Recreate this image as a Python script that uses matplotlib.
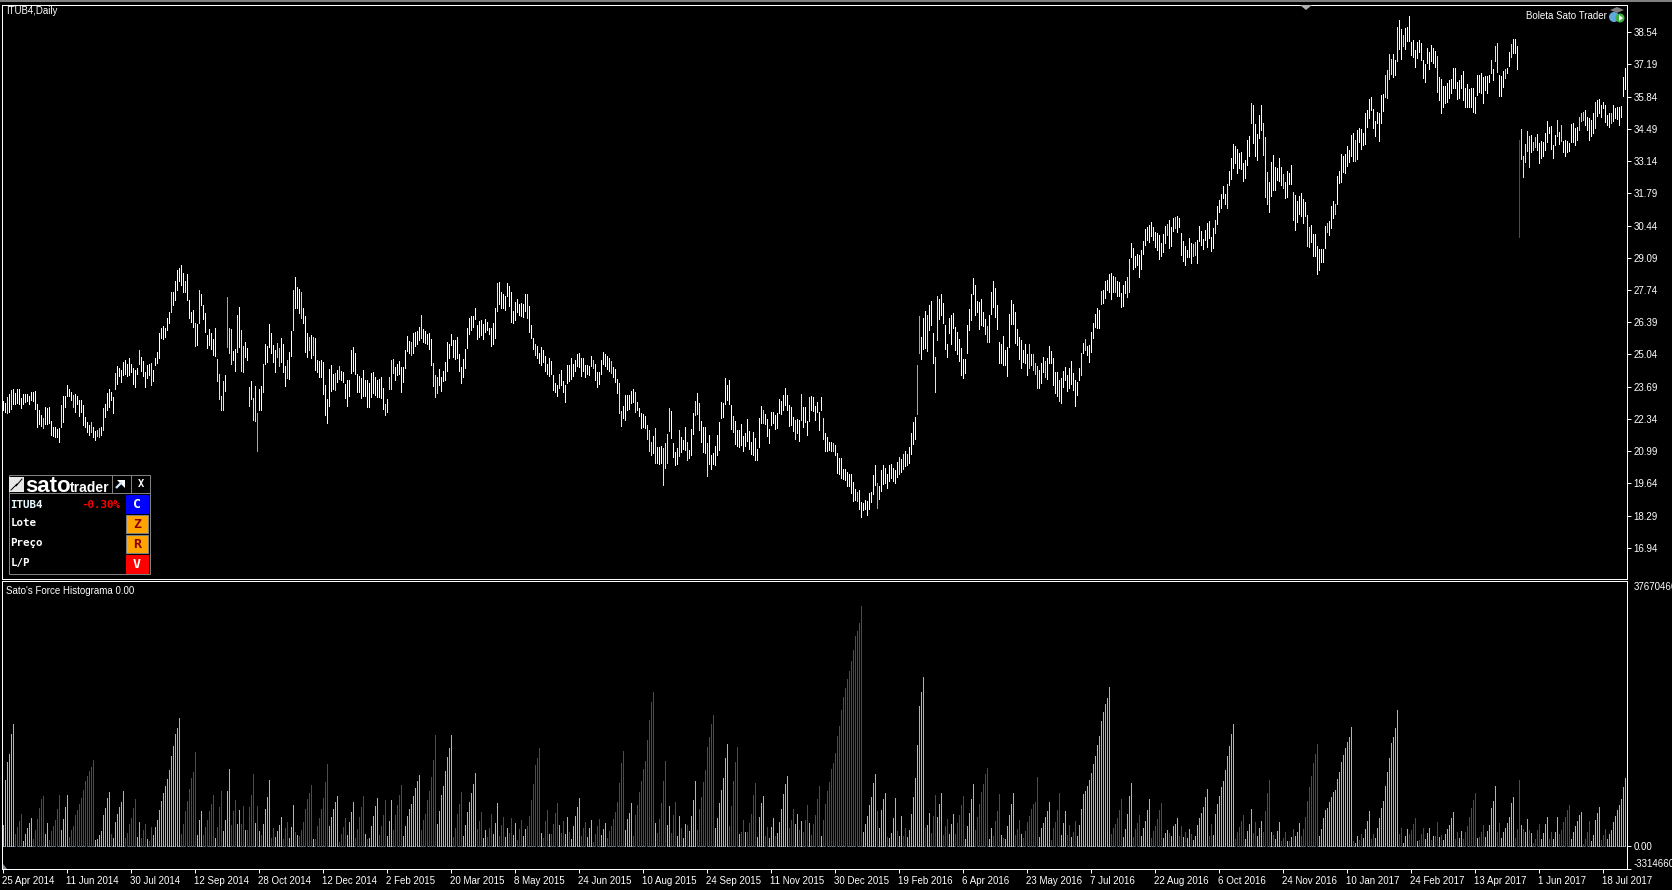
import matplotlib
matplotlib.use("Agg")
import matplotlib.pyplot as plt
from matplotlib.patches import Rectangle, Polygon, Circle

# price bars as (high, low) in cents, one tuple per trading day
bars_2014 = [(2310,2270),(2299,2264),(2326,2259),(2340,2264),(2354,2275),(2358,2298),(2343,2298),(2358,2301),(2358,2298),(2321,2280),
(2338,2298),(2338,2305),(2340,2308),(2329,2298),(2346,2312),(2346,2310),(2350,2276),(2298,2201),(2270,2212),(2250,2205),
(2236,2194),(2282,2212),(2280,2212),(2282,2217),(2223,2166),(2199,2162),(2198,2159),(2191,2159),(2194,2136),(2292,2199),
(2329,2219),(2329,2284),(2375,2329),(2361,2329),(2345,2312),(2332,2283),(2338,2264),(2329,2296),(2312,2245),(2312,2262),
(2292,2208),(2243,2201),(2219,2177),(2210,2166),(2220,2177),(2198,2156),(2184,2145),(2187,2162),(2196,2159),(2199,2166),
(2279,2187),(2296,2243),(2342,2270),(2361,2282),(2347,2312),(2326,2259),(2428,2359),(2455,2382),(2448,2413),(2438,2389),
(2473,2417),(2480,2424),(2465,2413),(2491,2417),(2463,2431),(2449,2378),(2438,2368),(2448,2421),(2522,2463),(2495,2435),
(2476,2413),(2431,2368),(2459,2407),(2463,2417),(2466,2375),(2438,2391),(2488,2459),(2515,2466),(2592,2488),(2614,2574),
(2625,2570),(2613,2575),(2655,2606),(2681,2634),(2765,2683),(2765,2711),(2811,2731),(2857,2773),(2866,2811),(2878,2794),
(2846,2764),(2813,2766),(2843,2734),(2734,2657),(2681,2638),(2692,2617),(2634,2539),(2631,2543),(2773,2634),(2759,2709),
(2711,2652),(2676,2599),(2585,2529),(2610,2543),(2592,2525),(2569,2502),(2614,2498),(2484,2392),(2421,2318),(2329,2270),
(2393,2270),(2417,2350),(2744,2536),(2614,2511),(2610,2465),(2518,2480),(2526,2435),(2669,2515),(2702,2536),(2606,2435),
(2539,2431),(2554,2494),(2532,2480),(2367,2289),(2392,2317),(2321,2229),(2371,2224),(2258,2100),(2357,2270),(2371,2270),
(2463,2346),(2547,2465),(2539,2473),(2631,2536),(2595,2508),(2543,2473),(2522,2431),(2551,2494),(2529,2455),(2572,2473),
(2547,2431),(2455,2371),(2480,2406),(2515,2403),(2603,2497),(2773,2606),(2828,2697),(2787,2697),(2778,2676),(2766,2657),
(2697,2634),(2664,2515),(2592,2494),(2578,2522),(2585,2491),(2575,2501),(2572,2438),(2480,2430),(2476,2410),(2480,2410),
(2473,2340),(2375,2250),(2319,2217),(2442,2287),(2458,2352),(2424,2361),(2428,2354),(2438,2389),(2455,2400),(2434,2396),
(2431,2389),(2382,2322),(2396,2289),(2396,2331),(2522,2427),(2535,2435),(2511,2421),(2424,2347),(2414,2346),(2406,2322),
(2438,2331),(2396,2331),(2396,2285),(2386,2285),(2428,2324),(2430,2343),(2409,2336),(2396,2326),(2400,2326),(2409,2322),
(2363,2277),(2296,2250),(2317,2262),(2409,2361),(2480,2358),(2484,2428),(2452,2396),(2463,2417),(2476,2424),(2451,2346),
(2451,2389),(2522,2449),(2581,2519),(2561,2508),(2557,2502),(2592,2508),(2599,2539),(2603,2547),(2617,2564)]

bars_2015 = [(2669,2572),(2611,2555),(2602,2553),(2590,2548),(2595,2527),(2569,2460),(2468,2372),(2418,2326),(2410,2343),(2443,2376),
(2410,2351),(2435,2393),(2472,2397),(2556,2435),(2548,2489),(2590,2544),(2565,2492),(2565,2485),(2577,2489),(2506,2435),
(2452,2384),(2485,2410),(2527,2447),(2615,2531),(2657,2590),(2665,2606),(2665,2619),(2699,2653),(2628,2569),(2644,2577),
(2648,2586),(2632,2569),(2653,2598),(2640,2606),(2615,2590),(2615,2539),(2636,2548),(2699,2573),(2804,2686),(2808,2716),
(2766,2699),(2757,2699),(2749,2690),(2804,2749),(2791,2707),(2766,2640),(2686,2636),(2724,2648),(2736,2682),(2715,2669),
(2720,2665),(2715,2661),(2757,2686),(2757,2657),(2707,2598),(2628,2573),(2573,2527),(2548,2502),(2539,2489),(2510,2468),
(2535,2460),(2523,2472),(2498,2435),(2464,2422),(2489,2414),(2477,2422),(2418,2355),(2384,2347),(2376,2330),(2422,2363),
(2439,2376),(2393,2347),(2376,2305),(2460,2384),(2460,2393),(2489,2401),(2464,2414),(2481,2435),(2506,2456),(2510,2451),
(2489,2414),(2489,2435),(2460,2410),(2460,2422),(2456,2418),(2498,2456),(2481,2447),(2464,2397),(2430,2368),(2430,2380),
(2481,2422),(2514,2464),(2506,2456),(2498,2443),(2489,2435),(2477,2426),(2452,2410),(2443,2389),(2401,2342),(2384,2259),
(2267,2204),(2288,2238),(2334,2229),(2334,2271),(2334,2275),(2351,2301),(2359,2305),(2347,2263),(2305,2271),(2280,2246),
(2259,2196),(2255,2200),(2246,2196),(2208,2150),(2187,2099),(2137,2083),(2162,2091),(2196,2049),(2116,2049),(2116,2045),
(2120,2049),(2112,1957),(2133,2028),(2171,2049),(2280,2183),(2267,2154),(2133,2074),(2095,2041),(2112,2045),(2187,2078),
(2158,2095),(2146,2108),(2200,2104),(2137,2062),(2104,2070),(2192,2083),(2259,2171),(2309,2250),(2342,2254),(2301,2187),
(2225,2137),(2200,2095),(2200,2091),(2133,1995),(2166,2045),(2083,2024),(2091,2045),(2120,2041),(2166,2083),(2221,2104),
(2305,2238),(2301,2242),(2405,2296),(2376,2313),(2397,2296),(2292,2192),(2246,2179),(2225,2129),(2187,2120),(2187,2116),
(2212,2125),(2162,2099),(2175,2120),(2234,2141),(2183,2108),(2137,2087),(2179,2083),(2154,2062),(2108,2062),(2238,2116),
(2288,2217),(2271,2217),(2254,2212),(2233,2162),(2192,2133),(2263,2208),(2263,2217),(2250,2192),(2259,2196),(2317,2259),
(2309,2254),(2334,2271),(2363,2292),(2334,2271),(2292,2204),(2284,2208),(2242,2183),(2229,2150),(2233,2175),(2229,2141),
(2338,2229),(2284,2200),(2284,2221),(2225,2166),(2326,2225),(2330,2271),(2326,2267),(2288,2229),(2305,2263),(2263,2187),
(2326,2271),(2238,2150),(2175,2099),(2158,2099),(2137,2104),(2137,2099),(2133,2099),(2125,2083),(2091,2007),(2070,2003),
(2070,1986),(2024,1982),(2024,1978),(2012,1953),(2003,1953),(2003,1923),(1970,1890),(1940,1894),(1928,1890),(1936,1856),
(1886,1823),(1881,1852),(1894,1856),(1890,1831),(1923,1856),(1928,1886),(1999,1919),(2041,1957),(1965,1861),(1953,1898),
(2020,1930),(2040,1960),(2030,1965),(2005,1945),(2040,1975),(2045,1985),(2030,1975),(2020,1965),(2055,1990),(2075,2005),
(2065,2010),(2085,2025),(2100,2035),(2085,2040),(2115,2050),(2175,2085),(2220,2130),(2242,2150)]

bars_2016 = [(2459,2254),(2665,2510),(2577,2485),(2656,2527),(2686,2531),(2669,2518),(2711,2606),(2728,2627),(2594,2468),(2493,2346),
(2749,2564),(2736,2652),(2757,2669),(2719,2636),(2627,2527),(2547,2493),(2656,2594),(2669,2547),(2677,2615),(2619,2522),
(2598,2506),(2568,2476),(2531,2418),(2485,2405),(2485,2426),(2627,2510),(2694,2606),(2757,2648),(2824,2757),(2795,2669),
(2728,2682),(2723,2610),(2736,2627),(2682,2623),(2652,2589),(2623,2556),(2669,2556),(2765,2673),(2811,2703),(2782,2661),
(2711,2610),(2556,2468),(2547,2468),(2581,2459),(2522,2459),(2535,2413),(2673,2535),(2732,2631),(2715,2631),(2682,2552),
(2610,2543),(2577,2485),(2564,2447),(2522,2472),(2547,2468),(2506,2418),(2547,2447),(2506,2460),(2506,2439),(2468,2422),
(2455,2363),(2438,2363),(2468,2384),(2493,2430),(2476,2409),(2489,2401),(2539,2468),(2518,2468),(2489,2376),(2430,2342),
(2430,2330),(2397,2309),(2405,2300),(2434,2367),(2451,2397),(2418,2351),(2447,2363),(2476,2380),(2426,2355),(2397,2288),
(2388,2334),(2447,2397),(2510,2418),(2552,2510),(2568,2522),(2539,2501),(2543,2472),(2598,2514),(2636,2573),(2673,2619),
(2698,2615),(2690,2615),(2770,2715),(2774,2719),(2812,2740),(2816,2774),(2841,2765),(2845,2736),(2832,2765),(2828,2765),
(2812,2749),(2807,2749),(2761,2703),(2795,2707),(2812,2761),(2828,2744),(2904,2765),(2971,2912),(2950,2862),(2916,2870),
(2925,2879),(2921,2828),(2941,2862),(2979,2925),(3029,2962),(3038,2983),(3046,2975),(3059,3000),(3038,2983),(3017,2954),
(3013,2941),(3004,2904),(2971,2916),(3009,2933),(3042,2971),(3050,3004),(3067,2950),(3038,2958),(3076,3021),(3080,3034),
(3084,3017),(3076,3038),(3012,2920),(2979,2895),(2958,2878),(2941,2912),(2991,2912),(2970,2887),(2966,2916),(2975,2920),
(2983,2887),(3042,2979),(3021,2962),(2987,2945),(3025,2983),(3054,2954),(3063,2991),(2996,2937),(3033,2950),(3067,3012),
(3126,3050),(3151,3100),(3176,3117),(3209,3159),(3176,3134),(3218,3117),(3272,3214),(3327,3239),(3385,3285),(3377,3306),
(3364,3264),(3348,3285),(3352,3281),(3306,3230),(3318,3243),(3402,3297),(3419,3335),(3557,3473),(3549,3390),(3469,3335),
(3427,3318),(3507,3411),(3549,3444),(3473,3339),(3415,3163),(3268,3134),(3226,3100),(3310,3167),(3339,3193),(3289,3193),
(3285,3235),(3327,3230),(3289,3214),(3260,3201),(3226,3159),(3272,3163),(3264,3218),(3297,3218),(3184,3067),(3172,3025),
(3147,3059),(3167,3092),(3180,3084),(3155,3054),(3142,3084),(3088,2958),(3038,2954),(3046,2975),(3008,2916),(3008,2916),
(2958,2841),(2945,2857),(2945,2891),(2945,2891),(3042,2950),(3054,3017),(3063,3004),(3126,3033),(3147,3075),(3134,3092)]

bars_2017 = [(3251,3134),(3272,3222),(3344,3226),(3335,3268),(3344,3264),(3377,3293),(3360,3310),(3423,3335),(3431,3314),(3402,3314),
(3444,3323),(3452,3394),(3448,3364),(3431,3381),(3515,3385),(3528,3457),(3574,3494),(3582,3528),(3532,3452),(3482,3419),
(3519,3473),(3515,3398),(3591,3473),(3595,3524),(3675,3582),(3696,3578),(3763,3658),(3742,3679),(3763,3666),(3737,3675),
(3876,3733),(3905,3784),(3866,3743),(3842,3798),(3870,3782),(3874,3819),(3922,3819),(3814,3758),(3821,3749),(3779,3710),
(3814,3744),(3821,3770),(3807,3738),(3738,3661),(3721,3647),(3786,3726),(3772,3698),(3800,3733),(3786,3724),(3777,3710),
(3754,3605),(3665,3570),(3657,3514),(3629,3542),(3629,3556),(3640,3563),(3654,3577),(3657,3598),(3705,3619),(3705,3619),
(3647,3573),(3654,3577),(3675,3619),(3691,3570),(3619,3542),(3637,3542),(3615,3542),(3619,3542),(3619,3521),(3584,3514),
(3675,3591),(3675,3605),(3682,3598),(3665,3556),(3670,3612),(3670,3598),(3675,3647),(3738,3682),(3698,3654),(3796,3735),
(3807,3689),(3675,3587),(3670,3587),(3693,3623),(3698,3661),(3703,3682),(3772,3712),(3805,3752),(3824,3768),(3824,3768),
(3796,3700),(3402,2997),(3448,3323),(3335,3247),(3386,3310),(3440,3358),(3419,3289),(3423,3353),(3395,3360),(3416,3374),
(3428,3360),(3391,3307),(3400,3326),(3395,3335),(3430,3360),(3482,3395),(3458,3430),(3461,3363),(3381,3328),(3423,3381),
(3486,3419),(3437,3386),(3465,3400),(3400,3353),(3402,3335),(3400,3353),(3391,3358),(3468,3393),(3472,3395),(3451,3381),
(3458,3402),(3500,3444),(3517,3482),(3521,3486),(3528,3465),(3500,3444),(3493,3402),(3486,3419),(3514,3433),(3563,3451),
(3570,3503),(3574,3514),(3549,3500),(3563,3535),(3549,3479),(3507,3465),(3514,3458),(3514,3475),(3549,3483),(3535,3493),
(3539,3489),(3542,3465),(3545,3497),(3668,3588),(3703,3615),(3705,3661)]

# bars that are not white, by position in the series
yellow_bars = [2,4,29,50,56,68,74,84,91,96,98,107,108,109,110,113,114,117,119,120,123,125,126,130,145,191,193,194,195,
    209,215,216,217,247,262,266,278,308,309,316,322,323,324,326,330,331,332,333,338,342,346,348,352,365,396,399,403,410,
    448,450,452,462,466,467,517,528,539,549,562,563,606,612,624,630,631,632,645,652,653,691,692,693,694,697,
    717,744,746,747,754,759,760,761,762,763,777,796]
orange_bars = [112,127,437,457,458]
blue_bars = [20,35,44,47,48,137,138,142,149,153,155,166,168,204,295,304,380,415,427,492,513,515,516,521,541,556,582,586,
    595,596,640,662,666,676,700,751,765,766,779,788,789,790,804]
red_bars = [758]

# force histogram in units of 100000, negative = red bar (drawn upward anyway)
force_2014 = [30,96,122,134,162,177,-17,-28,-36,-46,7,17,26,33,41,-10,-23,-39,-55,-68,-72,17,33,-9,-22,-29,-38,-54,-74,23,39,57,74,
-13,-23,-29,-45,-52,-61,-70,-81,-94,-101,-109,-114,-125,9,10,16,22,45,55,70,78,-17,12,35,46,57,64,80,-12,-19,-32,-41,-55,-68,13,35,
-12,-23,-32,10,-7,-28,16,28,38,52,65,77,87,97,110,130,145,162,171,185,-17,-32,-51,-65,-83,-99,-107,-136,16,38,51,-16,-28,-38,-51,-61,-74,
12,-28,-57,-80,22,38,80,112,-30,-51,-67,32,52,-32,-58,23,-23,-57,-74,-104,33,-58,22,-16,32,54,71,96,-12,-26,13,22,30,42,-10,-26,-35,
12,28,59,-20,16,-14,-23,-35,-54,-68,-77,-88,10,-10,-29,-41,-54,-70,-93,-119,29,42,54,64,72,-6,-17,-28,-41,16,35,49,64,-12,-25,-42,-57,-72,
17,-10,12,29,43,58,70,-16,-29,-45,-67,14,36,67,-23,-45,-59,-74,-88,14,29,43,54,61,72,84,94,103]

force_2015 = [-23,-38,-46,-67,-80,-100,-125,-161,32,51,74,87,109,129,142,161,-13,-26,-46,-61,-78,14,30,49,64,77,90,106,-25,-36,-49,12,23,
-13,-26,-46,17,33,62,-14,-30,-42,13,26,-19,-41,16,33,-9,-25,-38,14,25,-29,-43,-67,-90,-117,-128,-142,19,-12,-36,-52,17,-17,-32,-48,-62,30,
-19,-36,17,42,-20,10,29,43,57,70,-14,-26,-35,13,26,38,-6,-17,-29,-39,16,25,33,-12,-22,-29,-39,-49,-64,-91,-120,-138,23,39,48,62,
-14,-45,-59,-78,-94,-112,-123,-154,-183,-209,-223,33,-19,-39,-62,-94,-123,30,58,-19,-45,-64,14,43,-26,12,32,-30,22,43,67,94,
-23,-54,-71,-93,-110,-143,-158,-177,-190,26,41,62,81,99,128,148,-29,-58,-94,-122,-143,17,-20,-38,20,-20,-33,-46,-74,-91,13,42,62,72,-14,-28,12]

force_2016 = [28,41,-14,19,35,54,75,90,101,-26,-38,-54,32,46,-23,36,-20,-38,-59,33,-16,-32,-45,-68,-87,14,-38,-61,-80,-93,-112,-120,-135,
-159,-174,-197,-216,-229,-242,-254,-268,-284,-304,-312,-323,-348,20,32,43,59,71,91,104,-51,26,52,68,77,-13,12,19,41,70,-22,14,43,-14,-26,
13,23,46,71,99,146,203,223,245,-26,30,48,-19,-43,-74,42,61,77,-16,-29,-39,17,32,46,-17,-33,-45,
-59,-72,10,29,48,68,90,-23,-42,-61,-78,-90,-104,-113,10,26,-14,-36,-51,-75,16,-12,10,29,45,61,77,-16,-25,-38,17,-12,-22,-35,-43,-54,-61,-64,-100,
13,26,33,42,51,64,-9,-26,-35,-52,-77,16,33,51,-16,-30,13,-20,-36,14,30,54,75,80,87,96,106,119,130,146,159,181,194,206,214,230,
-17,-26,-32,-41,-52,-68,13,25,46,72,91,-13,-25,-33,-45,14,26,36,52,68,-12,-22,-29,-39,-52,-62,12,19,23,-19,14,29,32,41,-14,-29,13,-20,12,25,-17,9,14,30,41,48,57,71,83]

force_2017 = [-14,-32,16,46,61,72,85,94,110,130,145,162,177,-10,-20,-28,-36,-45,10,22,32,54,-19,-35,14,26,36,-20,-51,-77,-96,20,-16,10,22,35,
-7,-12,-20,7,-7,13,-25,14,20,33,-14,-25,-42,-65,-85,-101,-120,-133,-148,14,25,41,52,55,64,71,78,81,97,107,122,132,142,151,158,172,
-7,4,14,-9,-17,12,25,36,51,-10,-17,12,26,41,55,65,87,107,128,149,158,171,197,-17,-26,4,14,25,-17,-23,-32,-41,7,-9,-17,-26,10,19,26,-9,14,-14,-35,13,-16,
9,17,25,30,41,49,-10,-20,12,22,-10,-20,-29,-42,-55,-67,-77,12,-13,-20,-30,13,22,30,55,65,87,-20,-33,12,20,26,33,42,62,71,-12,-25,-96,30,-25,20,39,-23,19,
-4,-10,-23,-32,10,19,32,42,-10,-20,10,20,42,-17,-23,-35,-42,-52,-59,10,20,29,36,45,49,-3,-10,-20,-36,7,16,38,48,57,-9,-16,-25,10,17,23,35,43,52,59,68,85,99,109]

price_ticks = [38.54,37.19,35.84,34.49,33.14,31.79,30.44,29.09,27.74,26.39,25.04,23.69,22.34,20.99,19.64,18.29,16.94]
force_ticks = [37670466,0,-3314660]
force_tick_labels = ["37670466","0.00","-3314660"]
date_labels = ["25 Apr 2014","11 Jun 2014","30 Jul 2014","12 Sep 2014","28 Oct 2014","12 Dec 2014","2 Feb 2015","20 Mar 2015",
    "8 May 2015","24 Jun 2015","10 Aug 2015","24 Sep 2015","11 Nov 2015","30 Dec 2015","19 Feb 2016","6 Apr 2016","23 May 2016",
    "7 Jul 2016","22 Aug 2016","6 Oct 2016","24 Nov 2016","10 Jan 2017","24 Feb 2017","13 Apr 2017","1 Jun 2017","18 Jul 2017"]

plt.rcParams['font.family'] = ['Liberation Sans', 'DejaVu Sans']
W, H = 1672, 890
PX = 72 / 100  # one pixel in points at dpi 100
FS = 7

bars = bars_2014 + bars_2015 + bars_2016 + bars_2017
force = force_2014 + force_2015 + force_2016 + force_2017


def box(top, bottom):
    return [2 / W, 1 - bottom / H, 1625 / W, (bottom - top) / H]


fig = plt.figure(figsize=(W / 100, H / 100), dpi=100, facecolor='black')
ax = fig.add_axes(box(4.5, 579), facecolor='black')
ax2 = fig.add_axes(box(581, 869), facecolor='black')

# price bars
colors = ['white'] * len(bars)
for i in yellow_bars:
    colors[i] = '#ffff00'
for i in orange_bars:
    colors[i] = '#ff9900'
for i in blue_bars:
    colors[i] = '#add8e6'
for i in red_bars:
    colors[i] = '#ff0000'
ax.vlines(range(len(bars)), [b[1] / 100 for b in bars], [b[0] / 100 for b in bars],
          colors=colors, linewidth=PX, antialiased=False, capstyle='butt')

# histogram
force_colors = ['#ff0000' if v < 0 else '#00ffff' for v in force]
ax2.vlines(range(len(force)), 0, [abs(v) * 1e5 for v in force],
           colors=force_colors, linewidth=PX, antialiased=False, capstyle='butt')
ax2.axhline(0, color='#708090', linewidth=PX, linestyle=(0, (4, 2)), antialiased=False, zorder=1)

x0, x1 = -0.25, 812.25
ax.set_xlim(x0, x1)
ax.set_ylim(39.89 - 0.0419 * 579, 39.89 - 0.0419 * 4.5)
ax2.set_xlim(x0, x1)
ax2.set_ylim(-(869 - 846) * 144887, (846 - 581) * 144887)

for a in (ax, ax2):
    for s in a.spines.values():
        s.set_color('white')
        s.set_linewidth(PX)
    a.yaxis.tick_right()
    a.tick_params(axis='y', colors='white', length=3, width=PX, pad=1.5, labelsize=FS)

ax.set_xticks([])
ax.set_yticks(price_ticks)
ax.set_yticklabels([f"{p:.2f}" for p in price_ticks])

ax2.set_yticks(force_ticks)
ax2.set_yticklabels(force_tick_labels)
ax2.get_yticklabels()[2].set_verticalalignment('bottom')
ax2.yaxis.get_major_ticks()[0].tick2line.set_visible(False)
ax2.set_xticks(range(0, 813, 32))
ax2.set_xticklabels(date_labels, ha='left')
ax2.tick_params(axis='x', colors='white', length=3, width=PX, pad=2, labelsize=FS)

# overlay in pixel coordinates for the terminal furniture
ui = fig.add_axes([0, 0, 1, 1])
ui.set_xlim(0, W)
ui.set_ylim(H, 0)
ui.axis('off')
ui.patch.set_alpha(0)

ui.add_patch(Rectangle((0, 0), W, 1.5, color='#808080', lw=0))
ui.add_patch(Polygon([(1300, 5), (1312, 5), (1306, 10)], color='#b0b0b0', lw=0))
ui.add_patch(Polygon([(3, 869), (3, 864), (7, 869)], color='#8090a0', lw=0))

ui.text(6, 10.5, "ITUB4,Daily", color='white', fontsize=FS, va='center')
ui.text(6, 591, "Sato's Force Histograma 0.00", color='white', fontsize=FS, va='center')
ui.text(1607, 16, "Boleta Sato Trader", color='white', fontsize=FS, va='center', ha='right')

# little icon beside the order ticket text
ui.add_patch(Circle((1614, 17), 5, color='#5fa8e0', lw=0))
ui.add_patch(Circle((1620, 18), 4.5, color='#40b040', lw=0))
ui.add_patch(Polygon([(1610, 10), (1617, 7), (1624, 10), (1617, 13)], color='#808080', lw=0))
ui.add_patch(Polygon([(1619, 15), (1623, 18), (1619, 21)], color='white', lw=0))

# Sato trader panel
GREY = '#808080'
ui.add_patch(Rectangle((8.5, 474.5), 141, 99, fill=False, ec=GREY, lw=PX))
ui.plot([8.5, 149.5], [492.5, 492.5], color=GREY, lw=PX)
ui.plot([111.5, 111.5], [474.5, 492.5], color=GREY, lw=PX)
ui.plot([130.5, 130.5], [474.5, 492.5], color=GREY, lw=PX)
ui.add_patch(Rectangle((9, 477), 15, 15, color='#e8e8e8', lw=0))
ui.plot([11, 17, 16, 22], [490, 484, 486, 479], color='black', lw=0.7)
ui.text(25.5, 492, "sato", color='white', fontsize=16, fontweight='bold', va='baseline')
ui.text(70, 492, "trader", color='white', fontsize=10, fontweight='bold', va='baseline')
ui.plot([116, 122], [488, 482], color='#cfe8ff', lw=1.6, solid_capstyle='butt')
ui.add_patch(Polygon([(117, 480), (125, 480), (125, 488)], color='white', lw=0))
ui.text(140.5, 484, "X", color='white', fontsize=7.5, fontweight='bold', family='DejaVu Sans Mono', ha='center', va='center')

mono = dict(family='DejaVu Sans Mono', fontsize=7.8, fontweight='bold', va='center')
ui.text(10.5, 505, "ITUB4", color='#e8f8ff', **mono)
ui.text(120, 505, "-0.30%", color='#ff0000', ha='right', **mono)
ui.text(10.5, 523, "Lote", color='white', **mono)
ui.text(10.5, 543, "Preço", color='white', **mono)
ui.text(10.5, 563, "L/P", color='white', **mono)

panel_buttons = [("C", 495, '#0000ff', 'white'), ("Z", 515, '#ffa500', '#8b0000'),
                 ("R", 535, '#ffa500', '#8b0000'), ("V", 555, '#ff0000', 'white')]
for letter, top, fill, ink in panel_buttons:
    ui.add_patch(Rectangle((126, top), 22, 18, facecolor=fill, edgecolor=GREY if fill == '#ffa500' else fill, lw=PX))
    ui.text(137, top + 9, letter, color=ink, fontsize=9.5, fontweight='bold', family='DejaVu Sans Mono', ha='center', va='center')

fig.savefig('out.png', dpi=100, facecolor='black')
